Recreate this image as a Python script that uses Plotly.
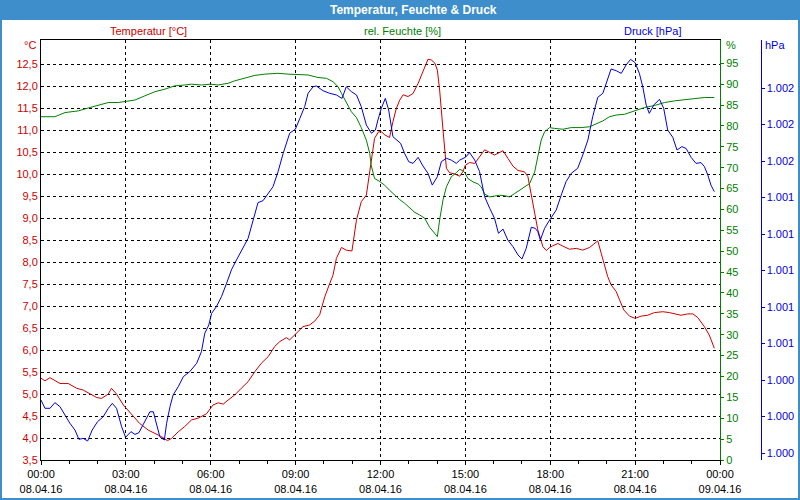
import datetime as dt
import plotly.graph_objects as go

# ---------------- data ----------------
DAY = dt.datetime(2016, 4, 8)

TEMP_HOURS = [0, 0.14, 0.32, 0.67, 0.96, 1.26, 1.49, 1.79, 1.97, 2.14, 2.38, 2.49, 2.67, 2.91, 3.02,
              3.32, 3.49, 3.79, 4.03, 4.26, 4.47, 4.61, 4.85, 5.08, 5.32, 5.55, 5.85, 6.08, 6.26, 6.44,
              6.61, 6.85, 7.08, 7.32, 7.56, 7.79, 8.03, 8.26, 8.44, 8.67, 8.79, 9.03, 9.26, 9.50, 9.68,
              9.85, 10.03, 10.21, 10.32, 10.44, 10.62, 10.79, 10.99, 11.15, 11.32, 11.50, 11.62, 11.79,
              11.93, 12.03, 12.15, 12.32, 12.44, 12.56, 12.68, 12.80, 12.97, 13.15, 13.33, 13.50, 13.68,
              13.80, 13.92, 14.01, 14.09, 14.21, 14.27, 14.33, 14.44, 14.62, 14.80, 14.91, 15.00, 15.15,
              15.33, 15.50, 15.68, 15.86, 16.03, 16.21, 16.33, 16.50, 16.68, 16.86, 17.09, 17.21, 17.33,
              17.45, 17.56, 17.74, 17.86, 17.98, 18.09, 18.27, 18.45, 18.68, 18.92, 19.15, 19.39, 19.56,
              19.68, 19.80, 19.94, 20.03, 20.15, 20.33, 20.45, 20.60, 20.80, 21.00, 21.21, 21.45, 21.68,
              21.98, 22.21, 22.39, 22.62, 22.86, 23.04, 23.21, 23.45, 23.62, 23.80]
TEMP_VALUES = [5.36, 5.30, 5.37, 5.24, 5.24, 5.13, 5.09, 4.98, 4.92, 4.90, 5.00, 5.13, 5.00, 4.75, 4.67,
               4.45, 4.33, 4.18, 4.11, 4.03, 3.94, 3.99, 4.14, 4.26, 4.41, 4.45, 4.55, 4.75, 4.80, 4.77,
               4.86, 4.98, 5.13, 5.28, 5.51, 5.70, 5.85, 6.08, 6.19, 6.28, 6.23, 6.38, 6.53, 6.57, 6.66,
               6.80, 7.21, 7.52, 7.70, 8.08, 8.33, 8.27, 8.25, 8.95, 9.37, 9.52, 10.09, 10.81,
               10.96, 10.96, 10.89, 10.83, 11.19, 11.49, 11.68, 11.80, 11.76, 11.83, 12.06, 12.33, 12.61,
               12.59, 12.52, 12.36, 11.91, 11.00, 10.55, 10.13, 10.03, 10.00, 9.95, 10.05, 10.20, 10.26,
               10.24, 10.39, 10.55, 10.49, 10.43, 10.49, 10.53, 10.36, 10.18, 10.08, 10.05, 9.94, 9.56,
               9.11, 8.73, 8.35, 8.26, 8.33, 8.37, 8.42, 8.36, 8.29, 8.31, 8.27, 8.33, 8.41,
               8.48, 8.20, 7.89, 7.67, 7.48, 7.33, 7.14, 6.91, 6.77, 6.72, 6.77, 6.79, 6.85,
               6.87, 6.85, 6.82, 6.79, 6.82, 6.82, 6.74, 6.53, 6.34, 6.04]

HUM_HOURS = [0, 0.49, 0.85, 1.32, 1.67, 2.02, 2.38, 2.73, 2.99, 3.32, 3.67, 4.03, 4.38, 4.73, 5.08,
             5.32, 5.67, 5.99, 6.26, 6.61, 6.85, 7.20, 7.56, 7.91, 8.38, 8.73, 9.09, 9.44, 9.79, 10.09,
             10.32, 10.50, 10.62, 10.79, 10.97, 11.15, 11.32, 11.50, 11.62, 11.67, 11.79, 11.95, 12.15,
             12.32, 12.50, 12.67, 12.85, 13.03, 13.21, 13.38, 13.56, 13.74, 13.92, 14.01, 14.09, 14.21,
             14.33, 14.50, 14.68, 14.80, 14.91, 15.00, 15.09, 15.27, 15.45, 15.56, 15.68, 15.86, 16.03,
             16.21, 16.39, 16.56, 16.74, 16.92, 17.09, 17.27, 17.45, 17.56, 17.68, 17.80, 17.98, 18.15,
             18.45, 18.74, 19.09, 19.39, 19.62, 19.86, 20.09, 20.33, 20.63, 21.00, 21.33, 21.69, 22.04,
             22.39, 22.74, 23.10, 23.45, 23.80]
HUM_VALUES = [82.2, 82.2, 83.2, 83.6, 84.3, 84.9, 85.6, 85.6, 85.9, 86.2, 87.2, 88.2, 88.8, 89.6, 89.8,
              90.0, 89.8, 90.0, 89.8, 90.2, 90.8, 91.4, 92.1, 92.4, 92.6, 92.4, 92.3, 92.2, 91.6, 91.4,
              90.6, 89.4, 87.8, 85.8, 83.4, 82.0, 79.6, 76.6, 73.4, 70.6, 67.4, 66.8, 65.8,
              64.6, 63.4, 62.4, 61.5, 60.3, 59.3, 58.7, 57.9, 55.7, 54.3, 53.5, 57.5, 62.3,
              65.4, 67.8, 68.8, 69.6, 69.3, 68.6, 67.4, 66.6, 66.1, 65.4, 63.7, 63.0, 63.2,
              63.4, 63.3, 63.0, 63.8, 64.6, 65.4, 66.2, 69.0, 72.6, 76.6, 78.6, 79.6, 79.4,
              79.2, 79.6, 79.6, 79.8, 80.4, 81.2, 82.2, 82.6, 82.8, 83.6, 84.4, 84.9, 85.6,
              86.0, 86.3, 86.6, 86.8, 86.8]

PRES_HOURS = [0, 0.14, 0.32, 0.49, 0.67, 0.85, 1.02, 1.20, 1.34, 1.49, 1.65, 1.81, 2.00, 2.20, 2.38,
              2.52, 2.67, 2.85, 2.99, 3.18, 3.32, 3.46, 3.65, 3.85, 3.97, 4.08, 4.20, 4.36, 4.44, 4.56,
              4.67, 4.85, 5.03, 5.26, 5.50, 5.67, 5.79, 5.93, 6.03, 6.20, 6.38, 6.56, 6.73, 6.91, 7.09,
              7.32, 7.50, 7.67, 7.85, 8.03, 8.20, 8.38, 8.56, 8.79, 8.99, 9.15, 9.32, 9.44, 9.62, 9.73,
              9.97, 10.20, 10.44, 10.64, 10.79, 10.97, 11.15, 11.32, 11.50, 11.68, 11.82, 11.91, 12.03,
              12.17, 12.29, 12.44, 12.56, 12.71, 12.85, 13.00, 13.15, 13.33, 13.50, 13.68, 13.83, 14.01,
              14.15, 14.33, 14.50, 14.68, 14.80, 15.00, 15.15, 15.33, 15.50, 15.68, 15.86, 16.03, 16.17,
              16.33, 16.50, 16.68, 16.86, 17.00, 17.15, 17.33, 17.47, 17.56, 17.65, 17.80, 17.98, 18.09,
              18.21, 18.39, 18.56, 18.74, 18.97, 19.15, 19.33, 19.50, 19.68, 19.86, 20.04, 20.15, 20.33,
              20.51, 20.68, 20.84, 21.00, 21.15, 21.27, 21.39, 21.50, 21.66, 21.86, 22.01, 22.15, 22.33,
              22.48, 22.65, 22.80, 22.98, 23.15, 23.33, 23.45, 23.57, 23.68, 23.80]
PRES_VALUES = [1000.290, 1000.245, 1000.245, 1000.276, 1000.254, 1000.208, 1000.163, 1000.126, 1000.075,
               1000.080, 1000.066, 1000.126, 1000.172, 1000.199, 1000.245, 1000.272, 1000.245, 1000.144,
               1000.086, 1000.117, 1000.102, 1000.111, 1000.163, 1000.226, 1000.226, 1000.163, 1000.089,
               1000.071, 1000.163, 1000.254, 1000.318, 1000.363, 1000.418, 1000.446, 1000.491, 1000.555,
               1000.656, 1000.701, 1000.765, 1000.802, 1000.857, 1000.930, 1001.003, 1001.058, 1001.112,
               1001.176, 1001.277, 1001.372, 1001.383, 1001.423, 1001.459, 1001.542, 1001.642, 1001.752,
               1001.774, 1001.834, 1001.898, 1001.971, 1002.007, 1002.011, 1001.985, 1001.971, 1001.962,
               1001.943, 1002.007, 1001.980, 1001.962, 1001.898, 1001.797, 1001.752, 1001.770, 1001.825,
               1001.889, 1001.943, 1001.879, 1001.733, 1001.719, 1001.697, 1001.642, 1001.596, 1001.587,
               1001.620, 1001.573, 1001.532, 1001.468, 1001.514, 1001.596, 1001.615, 1001.605, 1001.587,
               1001.605, 1001.620, 1001.646, 1001.605, 1001.542, 1001.405, 1001.341, 1001.286, 1001.204,
               1001.227, 1001.167, 1001.131, 1001.085, 1001.063, 1001.121, 1001.237, 1001.231, 1001.213,
               1001.167, 1001.231, 1001.277, 1001.300, 1001.331, 1001.414, 1001.487, 1001.532, 1001.560,
               1001.633, 1001.715, 1001.843, 1001.949, 1001.971, 1002.062, 1002.104, 1002.095, 1002.080,
               1002.126, 1002.157, 1002.139, 1002.080, 1002.007, 1001.907, 1001.861, 1001.907, 1001.938,
               1001.889, 1001.770, 1001.730, 1001.660, 1001.679, 1001.669, 1001.620, 1001.587, 1001.591,
               1001.569, 1001.523, 1001.468, 1001.432]

X_TICK_HOURS = [0, 3, 6, 9, 12, 15, 18, 21, 24]
X_TICK_TIMES = ["00:00", "03:00", "06:00", "09:00", "12:00", "15:00", "18:00", "21:00", "00:00"]
X_TICK_DATES = ["08.04.16"] * 8 + ["09.04.16"]
TEMP_TICKS = [3.5 + 0.5 * i for i in range(19)]
HUM_TICKS = list(range(0, 100, 5))
PRES_TICKS = [1000.0 + 0.2 * i for i in range(11)]

# ---------------- style ----------------
RED = "#cc0000"
GREEN = "#008000"
BLUE = "#0000dd"
FRAME = "#3d8ecb"
FONT = "Liberation Sans, Arial, sans-serif"

W, H = 800, 500
L, R, T, B = 41, 30, 40, 40
PW = W - L - R
PH = H - T - B
PLOT_RIGHT = 720


def px(x):
    return (x - L) / PW


def py(y):
    return (H - B - y) / PH


def times(hours):
    return [DAY + dt.timedelta(hours=h) for h in hours]


fig = go.Figure()
fig.add_trace(go.Scatter(x=times(TEMP_HOURS), y=TEMP_VALUES, mode="lines",
                         line=dict(color=RED, width=1), yaxis="y"))
fig.add_trace(go.Scatter(x=times(HUM_HOURS), y=HUM_VALUES, mode="lines",
                         line=dict(color=GREEN, width=1), yaxis="y2"))
fig.add_trace(go.Scatter(x=times(PRES_HOURS), y=PRES_VALUES, mode="lines",
                         line=dict(color=BLUE, width=1), yaxis="y3"))

tick_x = times(X_TICK_HOURS)
tick_text = [f"{t}<br>{d}" for t, d in zip(X_TICK_TIMES, X_TICK_DATES)]
minor_x = times(range(0, 25))

fig.update_layout(
    width=W, height=H, autosize=False,
    margin=dict(l=L, r=R, t=T, b=B, pad=0),
    paper_bgcolor="white", plot_bgcolor="white",
    separators=",.",
    showlegend=False,
    hovermode=False,
    font=dict(family=FONT, size=11, color="black"),
    xaxis=dict(
        type="date", domain=[0, px(PLOT_RIGHT)],
        range=[DAY, DAY + dt.timedelta(hours=24)],
        tickmode="array", tickvals=tick_x, ticktext=tick_text,
        ticks="outside", ticklen=4, tickcolor="black",
        showgrid=True, gridcolor="black", gridwidth=1, griddash="3px,3px",
        showline=True, linecolor="black", linewidth=1, mirror=True,
        tickfont=dict(family=FONT, size=11, color="black"),
        minor=dict(tickmode="array", tickvals=minor_x, ticks="outside", ticklen=3,
                   tickcolor="black", showgrid=False),
        zeroline=False, automargin=False,
    ),
    yaxis=dict(
        range=[3.5, 3.5 + PH / 44.0],
        tickmode="array", tickvals=TEMP_TICKS, tickformat=".1f",
        ticks="", showgrid=True, gridcolor="black", gridwidth=1, griddash="3px,3px",
        showline=True, linecolor="black", linewidth=1, zeroline=False, automargin=False,
        tickfont=dict(family=FONT, size=11, color=RED),
    ),
    yaxis2=dict(
        overlaying="y", side="right", anchor="x",
        range=[0, PH / 4.176],
        tickmode="array", tickvals=HUM_TICKS,
        ticks="outside", ticklen=3, tickcolor=GREEN,
        showgrid=False, showline=True, linecolor=GREEN, linewidth=1, zeroline=False, automargin=False,
        tickfont=dict(family=FONT, size=11, color=GREEN),
    ),
    yaxis3=dict(
        overlaying="y", side="right", anchor="free", position=px(760.5),
        range=[1000 - 7 / 182.5, 1000 + 413 / 182.5],
        tickmode="array", tickvals=PRES_TICKS, tickformat=",.0f",
        ticks="outside", ticklen=3, tickcolor=BLUE,
        showgrid=False, showline=True, linecolor=BLUE, linewidth=1, zeroline=False, automargin=False,
        tickfont=dict(family=FONT, size=11, color=BLUE),
    ),
    shapes=[
        dict(type="rect", xref="paper", yref="paper",
             x0=px(0), x1=px(W), y0=py(20), y1=py(0),
             fillcolor=FRAME, line=dict(width=0), layer="above"),
        dict(type="rect", xref="paper", yref="paper",
             x0=px(1), x1=px(W - 1), y0=py(H - 1), y1=py(1),
             fillcolor="rgba(0,0,0,0)", line=dict(color=FRAME, width=2), layer="above"),
    ],
    annotations=[
        dict(text="<b>Temperatur, Feuchte &amp; Druck</b>", x=px(413), y=py(10),
             xref="paper", yref="paper", showarrow=False, xanchor="center", yanchor="middle",
             font=dict(family=FONT, size=12, color="white")),
        dict(text="Temperatur [°C]", x=px(148), y=py(31), xref="paper", yref="paper",
             showarrow=False, xanchor="center", yanchor="middle",
             font=dict(family=FONT, size=11, color=RED)),
        dict(text="rel. Feuchte [%]", x=px(402), y=py(31), xref="paper", yref="paper",
             showarrow=False, xanchor="center", yanchor="middle",
             font=dict(family=FONT, size=11, color=GREEN)),
        dict(text="Druck [hPa]", x=px(652), y=py(31), xref="paper", yref="paper",
             showarrow=False, xanchor="center", yanchor="middle",
             font=dict(family=FONT, size=11, color=BLUE)),
        dict(text="°C", x=px(38), y=py(45), xref="paper", yref="paper",
             showarrow=False, xanchor="right", yanchor="middle",
             font=dict(family=FONT, size=11, color=RED)),
        dict(text="%", x=px(724), y=py(45), xref="paper", yref="paper",
             showarrow=False, xanchor="left", yanchor="middle",
             font=dict(family=FONT, size=11, color=GREEN)),
        dict(text="hPa", x=px(763), y=py(45), xref="paper", yref="paper",
             showarrow=False, xanchor="left", yanchor="middle",
             font=dict(family=FONT, size=11, color=BLUE)),
    ],
)

# remove the page's default body margin / scrollbars so the 800x500 figure fills the window exactly
POST = (
    "document.documentElement.style.overflow = 'hidden';"
    "document.body.style.margin = '0';"
    "document.body.style.overflow = 'hidden';"
)
fig.write_html(
    "out.html",
    config={"responsive": False, "displayModeBar": False, "staticPlot": True},
    post_script=POST,
)
